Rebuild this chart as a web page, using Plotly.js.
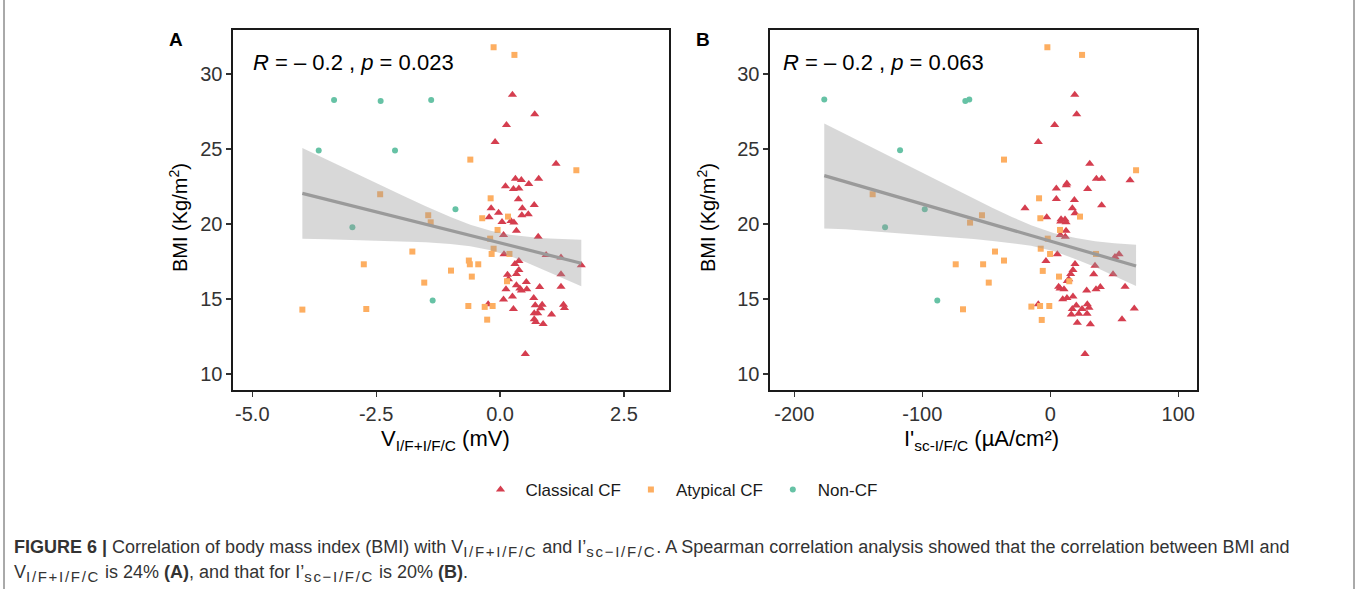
<!DOCTYPE html>
<html>
<head>
<meta charset="utf-8">
<script src="https://cdn.plot.ly/plotly-3.0.1.min.js"></script>
<style>html,body{margin:0;padding:0;background:#fff;}#chart{width:1358px;height:589px;}</style>
</head>
<body>
<div id="chart"></div>
<script>
// ---------- Panel A: V_{I/F+I/F/C} (mV) vs BMI ----------
const groupNames = ["Classical CF", "Atypical CF", "Non-CF"];

const aClassicalX = [0.25,0.70,0.13,-0.10,1.13,0.31,0.43,0.78,0.11,0.27,0.38,0.58,0.37,-0.18,-0.03,0.45,0.69,0.57,0.44,-0.22,0.04,0.22,0.28,0.33,0.07,0.77,0.08,0.93,1.23,1.64,0.38,0.30,0.38,0.33,0.15,1.23,0.17,0.53,0.33,0.12,0.40,0.43,0.54,0.80,1.23,0.25,0.07,0.68,-0.24,0.27,0.71,0.85,0.82,1.28,1.30,0.69,0.76,1.04,0.69,0.72,0.87,0.51];
const aClassicalY = [28.62,27.31,26.6,25.47,24.02,23.02,22.93,23.02,22.51,22.33,22.36,22.67,21.64,21.04,20.75,21.04,21.27,20.64,20.58,20.45,20.13,20.2,20.09,19.55,19.27,19.15,17.98,17.93,17.76,17.24,17.53,17.33,16.93,16.67,16.62,16.64,16.31,16.13,15.91,15.64,15.69,15.56,15.64,15.8,15.82,15.16,14.96,15.07,14.64,14.33,14.58,14.62,14.38,14.62,14.4,14.04,14.04,13.96,13.64,13.47,13.33,11.33];

const aAtypicalX = [-0.13,0.29,-0.60,1.54,-2.42,-0.19,-1.45,-0.36,0.16,-1.40,-0.05,-0.20,-0.13,-0.17,0.19,-1.77,-2.75,-0.63,-0.61,-0.44,-0.99,-1.53,-0.57,0.14,-0.64,-0.31,-0.15,-3.99,-2.70,-0.26];
const aAtypicalY = [31.78,31.27,24.29,23.58,21.98,21.71,20.58,20.38,20.49,20.11,19.6,19.02,18.35,18.0,18.0,18.16,17.31,17.56,17.31,17.31,16.89,16.09,16.49,16.18,14.53,14.47,14.53,14.29,14.33,13.62];

const aNonCFX = [-3.35,-2.41,-1.39,-3.66,-2.12,-0.90,-2.98,-1.36];
const aNonCFY = [28.27,28.2,28.27,24.89,24.89,20.98,19.78,14.89];

// fitted line and 95% band
const aFitX     = [-3.99,-3.5,-3.0,-2.5,-2.0,-1.5,-1.0,-0.6,-0.19,0.2,0.5,0.8,1.0,1.3,1.64];
const aFitY     = [22.04,21.63,21.22,20.81,20.39,19.98,19.56,19.23,18.89,18.57,18.32,18.07,17.91,17.66,17.38];
const aBandUp   = [25.06,24.28,23.49,22.71,21.94,21.18,20.46,19.94,19.54,19.28,19.16,19.07,19.03,18.98,18.95];
const aBandLow  = [19.02,18.98,18.95,18.91,18.84,18.78,18.66,18.52,18.24,17.86,17.48,17.07,16.79,16.34,15.84];

// ---------- Panel B: I'_{sc-I/F/C} (µA/cm²) vs BMI ----------
const bClassicalX = [19.1,20.6,3.4,-9.4,30.8,36.0,40.1,62.3,4.7,12.5,12.9,29.2,4.7,18.8,40.1,-19.8,17.2,19.3,-2.8,8.4,11.5,8.1,12.3,12.3,7.8,11.7,5.5,50.5,53.7,-3.4,19.3,34.9,49.0,17.7,15.9,33.9,14.4,13.3,6.5,7.6,10.7,28.4,35.7,39.1,58.4,9.7,13.0,17.7,-9.4,17.2,20.3,24.8,28.9,30.2,65.6,16.4,22.2,28.7,56.0,21.1,31.3,27.1];
const bClassicalY = [28.62,27.31,26.6,25.47,24.02,23.02,23.02,22.91,22.36,22.58,22.7,22.33,21.67,21.6,21.24,21.04,21.04,20.71,20.45,20.31,20.3,20.16,20.11,19.55,19.27,19.15,17.98,17.8,17.98,17.53,17.33,17.22,16.64,16.93,16.67,16.64,16.31,16.2,15.82,15.69,15.64,15.56,15.64,15.8,15.82,14.98,15.07,15.16,14.64,14.33,14.56,14.33,14.64,14.42,14.36,13.96,14.02,14.02,13.64,13.42,13.31,11.33];

const bAtypicalX = [-2.3,24.8,-36.2,67.0,-138.8,-8.8,-53.4,23.2,-7.8,-62.7,7.6,-2.0,-7.5,-0.2,35.7,-43.2,-73.9,-52.5,-36.2,-5.9,6.8,14.8,-48.1,-14.8,-8.0,-0.8,-68.2,-6.7];
const bAtypicalY = [31.78,31.27,24.29,23.58,21.98,21.71,20.58,20.49,20.38,20.09,19.6,19.02,18.35,18.0,18.0,18.16,17.31,17.31,17.56,16.87,16.49,16.18,16.09,14.49,14.53,14.53,14.31,13.6];

const bNonCFX = [-176.6,-66.4,-63.3,-117.4,-98.1,-129.1,-88.3];
const bNonCFY = [28.29,28.2,28.29,24.91,20.98,19.78,14.89];

const bFitX    = [-176.6,-160,-140,-120,-100,-80,-60,-45,-30,-15,3,20,35,50,67];
const bFitY    = [23.22,22.81,22.32,21.82,21.33,20.83,20.34,19.97,19.60,19.23,18.78,18.36,17.99,17.62,17.20];
const bBandUp  = [26.69,25.98,25.13,24.27,23.40,22.54,21.69,21.07,20.47,19.91,19.38,19.07,18.85,18.71,18.62];
const bBandLow = [19.69,19.64,19.51,19.37,19.26,19.12,18.99,18.87,18.73,18.55,18.18,17.65,17.13,16.53,15.86];

// tick labels
const xTicksA = [-5, -2.5, 0, 2.5];
const xTickTextA = ["-5.0", "-2.5", "0.0", "2.5"];
const xTicksB = [-200, -100, 0, 100];
const xTickTextB = ["-200", "-100", "0", "100"];
const yTicks = [10, 15, 20, 25, 30];
const yTickText = ["10", "15", "20", "25", "30"];

// ---------- styling ----------
const FONT = "Liberation Sans, Arial, Helvetica, sans-serif";
const colors = ["#D53E4F", "#FDAE61", "#66C2A5"];
const symbols = ["triangle-up", "square", "circle"];
const sizes = [8, 6, 6];
const W = 1358, H = 589;
const px = v => v / W, py = v => 1 - v / H;

function pointTraces(xa, ya, sets, showLegend) {
  return sets.map((s, i) => ({
    type: "scatter", mode: "markers", x: s[0], y: s[1],
    xaxis: xa, yaxis: ya, name: groupNames[i], legendgroup: groupNames[i],
    showlegend: showLegend,
    marker: {symbol: symbols[i], color: colors[i], size: sizes[i], line: {width: 0}},
    hoverinfo: "x+y"
  }));
}
function bandTraces(xa, ya, fx, fy, up, low) {
  const polyX = fx.concat(fx.slice().reverse());
  const polyY = up.concat(low.slice().reverse());
  return [
    {type: "scatter", mode: "lines", x: polyX, y: polyY, xaxis: xa, yaxis: ya,
     fill: "toself", fillcolor: "rgba(153,153,153,0.38)", line: {width: 0},
     showlegend: false, hoverinfo: "skip"},
    {type: "scatter", mode: "lines", x: fx, y: fy, xaxis: xa, yaxis: ya,
     line: {color: "#9a9a9a", width: 3.2}, showlegend: false, hoverinfo: "skip"}
  ];
}

const data = [].concat(
  pointTraces("x", "y", [[aClassicalX, aClassicalY], [aAtypicalX, aAtypicalY], [aNonCFX, aNonCFY]], true),
  bandTraces("x", "y", aFitX, aFitY, aBandUp, aBandLow),
  pointTraces("x2", "y2", [[bClassicalX, bClassicalY], [bAtypicalX, bAtypicalY], [bNonCFX, bNonCFY]], false),
  bandTraces("x2", "y2", bFitX, bFitY, bBandUp, bBandLow)
);

const axisCommon = {
  showgrid: false, zeroline: false, showline: true, mirror: true,
  linecolor: "#1a1a1a", linewidth: 1.6, ticks: "outside", ticklen: 5, tickwidth: 1.2,
  tickcolor: "#333", tickfont: {family: FONT, size: 20, color: "#333"}, fixedrange: true
};

const SUB = '<span style="font-size:15px;letter-spacing:1.7px">';
const yDom = [py(390), py(30)];
const layout = {
  width: W, height: H, margin: {l: 0, r: 0, t: 0, b: 0},
  paper_bgcolor: "#fff", plot_bgcolor: "#fff",
  font: {family: FONT, color: "#1a1a1a"},
  xaxis: Object.assign({}, axisCommon, {domain: [px(233), px(669)], range: [-5.39, 3.41], tickvals: xTicksA, ticktext: xTickTextA, anchor: "y"}),
  yaxis: Object.assign({}, axisCommon, {domain: yDom, range: [8.93, 32.93], tickvals: yTicks, ticktext: yTickText, anchor: "x"}),
  xaxis2: Object.assign({}, axisCommon, {domain: [px(770), px(1197)], range: [-219, 114.6], tickvals: xTicksB, ticktext: xTickTextB, anchor: "y2"}),
  yaxis2: Object.assign({}, axisCommon, {domain: yDom, range: [8.93, 32.93], tickvals: yTicks, ticktext: yTickText, anchor: "x2"}),
  showlegend: true,
  legend: {orientation: "h", x: 0.5, xanchor: "center", y: py(490), yanchor: "middle",
           font: {family: FONT, size: 17, color: "#1a1a1a"}, itemwidth: 40, bgcolor: "rgba(0,0,0,0)"},
  shapes: [
    {type: "line", xref: "paper", yref: "paper", x0: px(4), x1: px(4), y0: 0, y1: 1, line: {color: "#555", width: 1}},
    {type: "line", xref: "paper", yref: "paper", x0: px(1354), x1: px(1354), y0: 0, y1: 1, line: {color: "#555", width: 1}}
  ],
  annotations: [
    {text: "<b>A</b>", xref: "paper", yref: "paper", x: px(176), y: py(40), xanchor: "center", yanchor: "middle", showarrow: false, font: {family: FONT, size: 19, color: "#000"}},
    {text: "<b>B</b>", xref: "paper", yref: "paper", x: px(703), y: py(40), xanchor: "center", yanchor: "middle", showarrow: false, font: {family: FONT, size: 19, color: "#000"}},
    {text: "<i>R</i> = \u2013 0.2 , <i>p</i> = 0.023", xref: "paper", yref: "paper", x: px(251), y: py(62), xanchor: "left", yanchor: "middle", showarrow: false, font: {family: FONT, size: 22, color: "#000"}},
    {text: "<i>R</i> = \u2013 0.2 , <i>p</i> = 0.063", xref: "paper", yref: "paper", x: px(781), y: py(62), xanchor: "left", yanchor: "middle", showarrow: false, font: {family: FONT, size: 22, color: "#000"}},
    {text: "V<sub>I/F+I/F/C</sub> (mV)", xref: "paper", yref: "paper", x: px(445), y: py(440), xanchor: "center", yanchor: "middle", showarrow: false, font: {family: FONT, size: 22, color: "#000"}},
    {text: "I'<sub>sc-I/F/C</sub> (\u00b5A/cm\u00b2)", xref: "paper", yref: "paper", x: px(981), y: py(440), xanchor: "center", yanchor: "middle", showarrow: false, font: {family: FONT, size: 22, color: "#000"}},
    {text: "BMI (Kg/m<sup>2</sup>)", xref: "paper", yref: "paper", x: px(179), y: py(218), textangle: -90, xanchor: "center", yanchor: "middle", showarrow: false, font: {family: FONT, size: 20, color: "#000"}},
    {text: "BMI (Kg/m<sup>2</sup>)", xref: "paper", yref: "paper", x: px(707), y: py(218), textangle: -90, xanchor: "center", yanchor: "middle", showarrow: false, font: {family: FONT, size: 20, color: "#000"}},
    {text: "<b>FIGURE 6 |</b> Correlation of body mass index (BMI) with V<sub>" + SUB + "I/F+I/F/C</span></sub> and I\u2019<sub>" + SUB + "sc\u2212I/F/C</span></sub>. A Spearman correlation analysis showed that the correlation between BMI and",
     xref: "paper", yref: "paper", x: px(12), y: py(548), xanchor: "left", yanchor: "middle", showarrow: false, font: {family: FONT, size: 18, color: "#333"}},
    {text: "V<sub>" + SUB + "I/F+I/F/C</span></sub> is 24% <b>(A)</b>, and that for I\u2019<sub>" + SUB + "sc\u2212I/F/C</span></sub> is 20% <b>(B)</b>.",
     xref: "paper", yref: "paper", x: px(12), y: py(573), xanchor: "left", yanchor: "middle", showarrow: false, font: {family: FONT, size: 18, color: "#333"}}
  ]
};

Plotly.newPlot("chart", data, layout, {staticPlot: true, displayModeBar: false});
</script>
</body>
</html>
